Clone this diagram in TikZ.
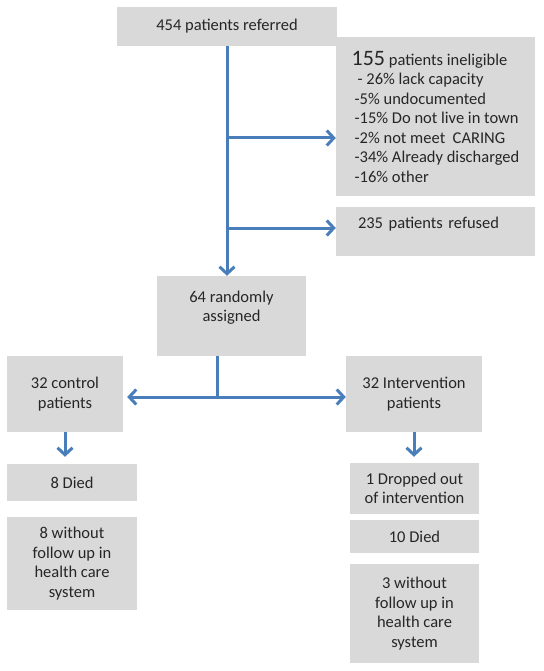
\documentclass[tikz,border=0pt]{standalone}
\usepackage{fontspec}
\setmainfont{Carlito}
\usetikzlibrary{arrows.meta}
\definecolor{boxgray}{HTML}{D9D9D9}
\definecolor{flowblue}{HTML}{4A7EBB}
\begin{document}
\begin{tikzpicture} [
            x=1pt, y=-1pt,
            every node/.style = {font=\fontsize{16.5}{19.5}\selectfont, text=black!85},
            box/.style = {fill=boxgray, inner sep=0pt, align=center},
            flowline/.style = {draw=flowblue, line width=3pt},
            flow/.style = {flowline, -{Straight Barb[length=7pt,width=15pt,line width=3pt]}},
        ]
            \useasboundingbox (0,0) rectangle (543,671);

            \node[box, minimum width=220, minimum height=39] (ref) at (227, 26.5) {454 patients referred};
            \node[box, align=left, minimum width=199, minimum height=159] (inelig) at (435.5, 116.5)
                {{\fontsize{22}{22}\selectfont 155} patients ineligible\\
                 \hspace*{6pt}- 26\% lack capacity\\
                 \hspace*{3pt}-5\% undocumented\\
                 \hspace*{3pt}-15\% Do not live in town\\
                 \hspace*{3pt}-2\% not meet \ CARING\\
                 \hspace*{3pt}-34\% Already discharged\\
                 \hspace*{3pt}-16\% other};
            \node[box, align=left, anchor=north, text width=155, inner xsep=22, inner ysep=5,
                  text height=16, text depth=23] (refused) at (435.5, 207) {235 patients refused};
            \node[box, minimum width=149, minimum height=80] (rand) at (231.5, 316) {64 randomly\\assigned\\~};

            \node[box, minimum width=116, minimum height=76] (ctrl) at (65, 394) {32 control\\patients};
            \node[box, minimum width=136, minimum height=76] (interv) at (414, 394) {32 Intervention\\patients};

            \node[box, minimum width=130, minimum height=37] (ctrldied) at (72, 482.5) {8 Died};
            \node[box, minimum width=130, minimum height=93] (ctrlnofu) at (72, 563.5) {8 without\\follow up in\\health care\\system};

            \node[box, minimum width=129, minimum height=51] (dropout) at (414.5, 488.5) {1 Dropped out\\of intervention};
            \node[box, minimum width=129, minimum height=33] (intdied) at (414.5, 536.5) {10 Died};
            \node[box, minimum width=129, minimum height=99] (intnofu) at (414.5, 613.5) {3 without\\follow up in\\health care\\system};

            \coordinate (b1) at (227, 138);
            \coordinate (b2) at (227, 228);
            \coordinate (split) at (217, 397);

            \draw[flow] (ref.south) -- (ref.south |- rand.north);
            \draw[flow] (b1) -- (b1 -| inelig.west);
            \draw[flow] (b2) -- (b2 -| refused.west);
            \draw[flowline] (split |- rand.south) -- (split);
            \draw[flow, shorten >=4pt] (split) -- (split -| ctrl.east);
            \draw[flow] (split) -- (split -| interv.west);
            \draw[flow, shorten >=7pt] (ctrl.south) -- (ctrl.south |- ctrldied.north);
            \draw[flow, shorten >=6pt] (interv.south) -- (interv.south |- dropout.north);
        \end{tikzpicture}
\end{document}
